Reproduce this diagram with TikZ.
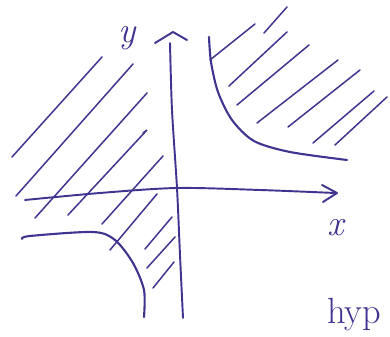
\documentclass[tikz,border=0pt]{standalone}
\usepackage{tikz}
\usepackage{xcolor}
\usetikzlibrary{arrows.meta}
\definecolor{ink}{HTML}{3F3590}

\begin{document}
\begin{tikzpicture}[x=0.02cm, y=-0.02cm,
      ax/.style={draw=ink, line width=1.1pt, line cap=round, line join=round},
      br/.style={draw=ink, line width=1.2pt, line cap=round},
      ht/.style={draw=ink, line width=0.85pt, line cap=round},
      lb/.style={text=ink, font=\huge\itshape}
    ]
    \useasboundingbox (0,0) rectangle (390,337);

    % axes
    \coordinate (xl) at (25,200);
    \coordinate (o)  at (177,188);
    \coordinate (xr) at (335,193);
    \coordinate (yb) at (183,318);
    \coordinate (yt) at (170,43);
    \draw[ax] plot[smooth] coordinates {(xl) (100,193) (o) (260,190) (xr)};
    \draw[ax] plot[smooth] coordinates {(yb) (180,255) (o) (172,110) (yt)};
    \draw[ax] (322,185) -- (337,193) -- (323,202);
    \draw[ax] (155,43) -- (173,32) -- (187,40);

    \node[lb] (ylab) at (127,38)  {y};
    \node[lb] (xlab) at (336,228) {x};
    \node[lb, anchor=base west, font=\huge] (name) at (321,324) {hyp};

    % branches
    \draw[br] plot[smooth] coordinates {(209,37) (211,62) (218,92) (232,120) (254,141) (290,152) (347,160)};
    \draw[br] plot[smooth] coordinates {(22,239) (30,236) (93,232) (115,240) (133,263) (144,290) (144,317)};

    % hatching, upper right
    \draw[ht] (210,60) -- (255,24);
    \draw[ht] (264,33) -- (287,7);
    \draw[ht] (229,86) -- (287,32);
    \draw[ht] (237,105) -- (309,45);
    \draw[ht] (257,123) -- (338,60);
    \draw[ht] (288,127) -- (360,70);
    \draw[ht] (313,143) -- (374,91);
    \draw[ht] (335,145) -- (387,97);

    % hatching, left
    \draw[ht] (12,157) -- (102,57);
    \draw[ht] (16,196) -- (133,64);
    \draw[ht] (35,218) -- (147,93);
    \draw[ht] (68,215) -- (147,130) -- (143,133);
    \draw[ht] (102,224) -- (163,156);
    \draw[ht] (110,250) -- (157,194);
    \draw[ht] (145,249) -- (172,217);
    \draw[ht] (147,268) -- (175,237);
    \draw[ht] (153,288) -- (174,262);
\end{tikzpicture}
\end{document}
